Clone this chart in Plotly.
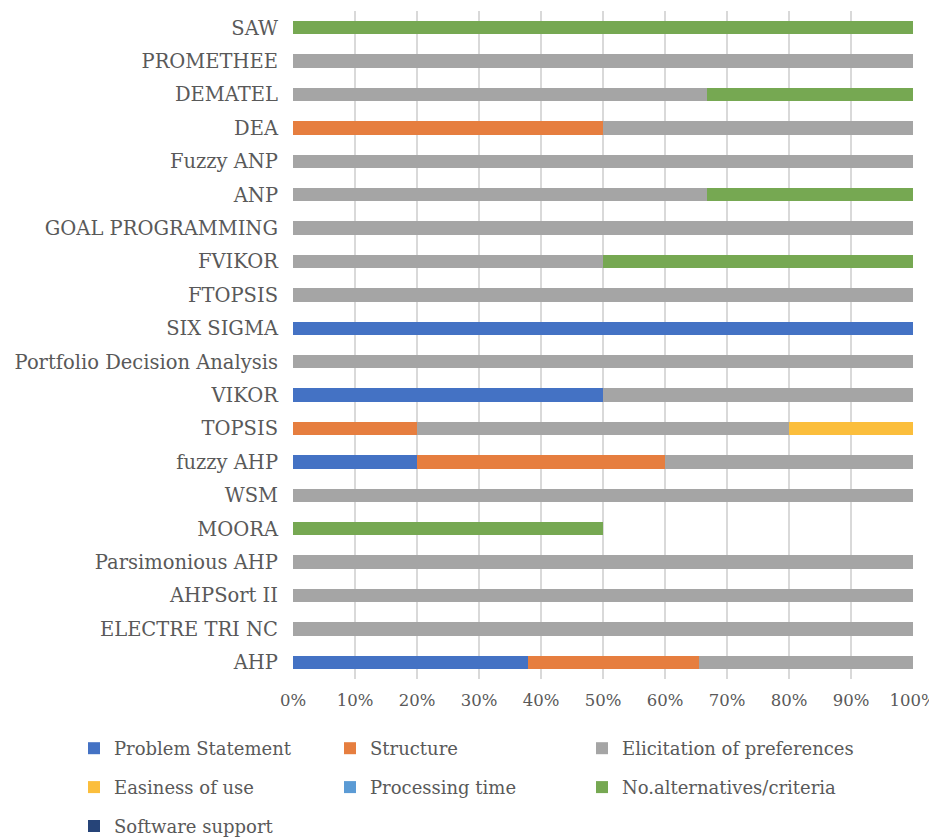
import plotly.graph_objects as go

categories = ["AHP", "ELECTRE TRI NC", "AHPSort II", "Parsimonious AHP", "MOORA", "WSM",
              "fuzzy AHP", "TOPSIS", "VIKOR", "Portfolio Decision Analysis", "SIX SIGMA",
              "FTOPSIS", "FVIKOR", "GOAL PROGRAMMING", "ANP", "Fuzzy ANP", "DEA",
              "DEMATEL", "PROMETHEE", "SAW"]

problem_statement = [37.9, 0, 0, 0, 0, 0, 20, 0, 50, 0, 100, 0, 0, 0, 0, 0, 0, 0, 0, 0]
structure =         [27.6, 0, 0, 0, 0, 0, 40, 20, 0, 0, 0, 0, 0, 0, 0, 0, 50, 0, 0, 0]
elicitation =       [34.5, 100, 100, 100, 0, 100, 40, 60, 50, 100, 0, 100, 50, 100, 66.7, 100, 50, 66.7, 100, 0]
easiness =          [0, 0, 0, 0, 0, 0, 0, 20, 0, 0, 0, 0, 0, 0, 0, 0, 0, 0, 0, 0]
processing_time =   [0] * 20
no_alternatives =   [0, 0, 0, 0, 50, 0, 0, 0, 0, 0, 0, 0, 50, 0, 33.3, 0, 0, 33.3, 0, 100]
software_support =  [0] * 20

series = [
    ("Problem Statement", problem_statement, "#4472C4", "legend"),
    ("Structure", structure, "#E67E3F", "legend2"),
    ("Elicitation of preferences", elicitation, "#A5A5A5", "legend3"),
    ("Easiness of use", easiness, "#FBBE3C", "legend"),
    ("Processing time", processing_time, "#5B9BD5", "legend2"),
    ("No.alternatives/criteria", no_alternatives, "#76A852", "legend3"),
    ("Software support", software_support, "#264478", "legend"),
]

fig = go.Figure()
for name, vals, color, leg in series:
    fig.add_trace(go.Bar(
        y=categories, x=vals, name=name, orientation="h", legend=leg, legendgroup=name,
        marker=dict(color=color, line=dict(width=0)),
        hovertemplate="%{y}: %{x}%<extra>" + name + "</extra>",
    ))

font_family = "DejaVu Serif, Liberation Serif, serif"
legend_common = dict(orientation="v", xref="container", yref="container",
                     xanchor="left", yanchor="top", traceorder="grouped",
                     tracegroupgap=12.5, bgcolor="rgba(0,0,0,0)",
                     font=dict(size=18, color="#595959", family=font_family))

# page has an 8px body margin, so the figure is sized to fit the 937x837 window
W, H = 929, 829
ly = 1 - 722 / H
fig.update_layout(
    barmode="stack",
    bargap=0.6,
    width=W, height=H,
    margin=dict(l=285, r=24, t=3, b=158, autoexpand=False),
    plot_bgcolor="white", paper_bgcolor="white",
    font=dict(family=font_family, size=18, color="#595959"),
    xaxis=dict(range=[0, 100], dtick=10, ticksuffix="%", showgrid=True,
               gridcolor="#D9D9D9", gridwidth=2, zeroline=False, automargin=False,
               ticklabeloverflow="allow", ticklabelstandoff=9,
               tickfont=dict(size=16.5, color="#595959"), ticks="", fixedrange=True),
    yaxis=dict(categoryorder="array", categoryarray=categories, showgrid=False,
               automargin=False,
               tickfont=dict(size=19.5, color="#595959"), ticks="", ticklabelstandoff=14),
    legend=dict(x=66 / W, y=ly, **legend_common),
    legend2=dict(x=322 / W, y=ly, **legend_common),
    legend3=dict(x=574 / W, y=ly, **legend_common),
    showlegend=True,
)

fig.write_html("out.html")
